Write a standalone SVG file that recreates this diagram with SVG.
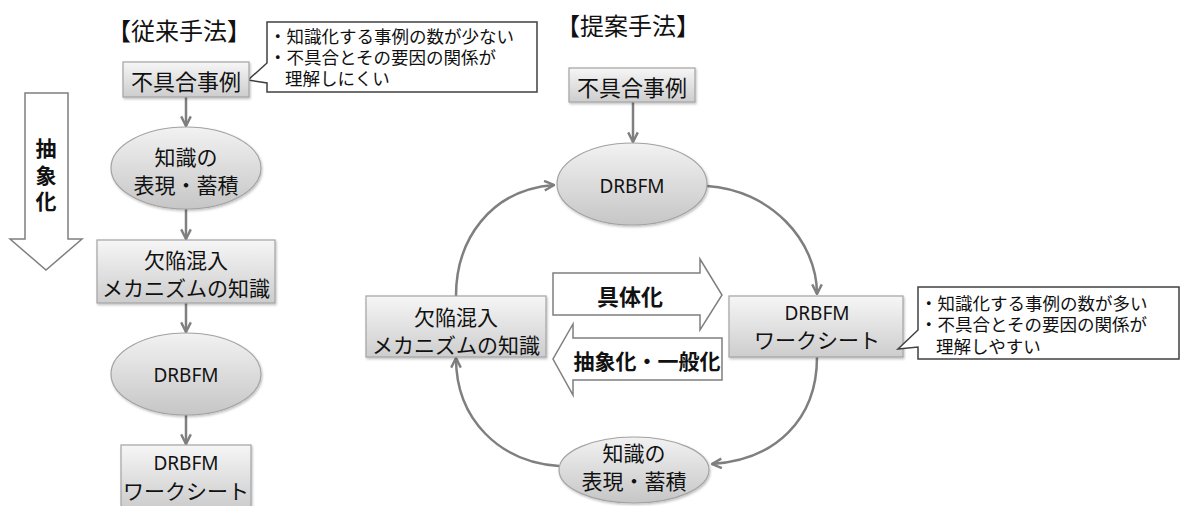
<svg xmlns="http://www.w3.org/2000/svg" width="1182" height="506" viewBox="0 0 1182 506">
<style>
text{font-family:"Noto Sans CJK JP","Noto Sans",sans-serif;fill:#111;dominant-baseline:central}
.t{font-size:21px;text-anchor:middle}
.lat{font-family:"Noto Sans","Noto Sans CJK JP",sans-serif;font-size:19px;text-anchor:middle}
.ttl{font-size:24px}
.c{font-size:17.5px}
.b{font-size:22px;font-weight:bold;text-anchor:middle}
.box{fill:url(#gb);stroke:#a3a3a3;stroke-width:1.2;filter:url(#sh)}
.ell{fill:url(#ge);stroke:#a3a3a3;stroke-width:1.2;filter:url(#sh)}
.call{fill:#fff;stroke:#404040;stroke-width:1.5}
.big{fill:#fff;stroke:#7f7f7f;stroke-width:1.5}
.con{fill:none;stroke:#7f7f7f;stroke-width:2.5;marker-end:url(#ah)}
</style>
<defs>
<linearGradient id="gb" x1="0" y1="0" x2="0" y2="1"><stop offset="0" stop-color="#f6f6f6"/><stop offset="1" stop-color="#cdcdcd"/></linearGradient>
<linearGradient id="ge" x1="0" y1="0" x2="0" y2="1"><stop offset="0" stop-color="#f2f2f2"/><stop offset="1" stop-color="#c6c6c6"/></linearGradient>
<filter id="sh" x="-10%" y="-10%" width="120%" height="130%"><feDropShadow dx="1" dy="1.5" stdDeviation="1.2" flood-color="#000" flood-opacity="0.25"/></filter>
<marker id="ah" viewBox="0 0 10 10" refX="9" refY="5" markerWidth="12" markerHeight="12" markerUnits="userSpaceOnUse" orient="auto"><path d="M1,1 L9,5 L1,9" fill="none" stroke="#7f7f7f" stroke-width="2"/></marker>
</defs>

<g id="titles">
<text class="ttl" x="107" y="29">【従来手法】</text>
<text class="ttl" x="556" y="24">【提案手法】</text>
</g>

<g id="abstract-arrow">
<polygon class="big" points="25,93 68,93 68,239 82,239 46,270 10,239 25,239"/>
<text class="b" x="46" y="147" style="font-size:21px">抽</text>
<text class="b" x="46" y="174" style="font-size:21px">象</text>
<text class="b" x="46" y="200" style="font-size:21px">化</text>
</g>

<g id="connectors">
<line class="con" x1="186" y1="97" x2="186" y2="126"/>
<line class="con" x1="186" y1="209" x2="186" y2="239"/>
<line class="con" x1="186" y1="303" x2="186" y2="332"/>
<line class="con" x1="186" y1="415" x2="186" y2="444"/>
<line class="con" x1="633" y1="102" x2="633" y2="142"/>
<path class="con" d="M456,296 C456,240 490,190 554,185"/>
<path class="con" d="M707,186 C770,190 817,240 817,294"/>
<path class="con" d="M817,357 C817,420 775,460 712,464"/>
<path class="con" d="M559,466 C500,462 456,420 456,358"/>
</g>

<g id="old-callout">
<path class="call" d="M267,22 H537 V92 H267 V83 L248,80 L267,63 Z"/>
<text class="c" x="269" y="35">・知識化する事例の数が少ない</text>
<text class="c" x="269" y="56">・不具合とその要因の関係が</text>
<text class="c" x="285" y="77">理解しにくい</text>
</g>

<g id="old-case">
<rect class="box" x="123" y="62" width="126" height="35"/>
<text class="t" x="186" y="80" style="font-size:22px">不具合事例</text>
</g>

<g id="old-knowledge">
<ellipse class="ell" cx="186" cy="168" rx="75" ry="41"/>
<text class="t" x="186" y="156">知識の</text>
<text class="t" x="186" y="184">表現・蓄積</text>
</g>

<g id="old-mechanism">
<rect class="box" x="97" y="240" width="178" height="63"/>
<text class="t" x="186" y="259">欠陥混入</text>
<text class="t" x="186" y="287">メカニズムの知識</text>
</g>

<g id="old-drbfm">
<ellipse class="ell" cx="186" cy="374" rx="75" ry="41"/>
<text class="lat" x="186" y="375">DRBFM</text>
</g>

<g id="old-worksheet">
<rect class="box" x="121" y="445" width="130" height="62"/>
<text class="lat" x="186" y="463">DRBFM</text>
<text class="t" x="186" y="490">ワークシート</text>
</g>

<g id="new-case">
<rect class="box" x="569" y="68" width="126" height="34"/>
<text class="t" x="632" y="86" style="font-size:22px">不具合事例</text>
</g>

<g id="new-drbfm">
<ellipse class="ell" cx="632" cy="184" rx="75" ry="41"/>
<text class="lat" x="632" y="186">DRBFM</text>
</g>

<g id="new-mechanism">
<rect class="box" x="366" y="296" width="180" height="61"/>
<text class="t" x="456" y="316">欠陥混入</text>
<text class="t" x="456" y="344">メカニズムの知識</text>
</g>

<g id="concretize">
<polygon class="big" points="553,273 700,273 700,259 722,295 700,330 700,315 553,315"/>
<text class="b" x="630" y="295">具体化</text>
</g>

<g id="generalize">
<polygon class="big" points="722,338 573,338 573,324 553,359 573,395 573,380 722,380"/>
<text class="b" x="647" y="360" style="font-size:21px">抽象化・一般化</text>
</g>

<g id="new-worksheet">
<rect class="box" x="729" y="296" width="174" height="61"/>
<text class="lat" x="817" y="313">DRBFM</text>
<text class="t" x="817" y="339">ワークシート</text>
</g>

<g id="new-callout">
<path class="call" d="M918,287 H1179 V359 H918 V347 L898,349 L918,330 Z"/>
<text class="c" x="920" y="302">・知識化する事例の数が多い</text>
<text class="c" x="920" y="323">・不具合とその要因の関係が</text>
<text class="c" x="936" y="345">理解しやすい</text>
</g>

<g id="new-knowledge">
<ellipse class="ell" cx="634" cy="470" rx="75" ry="33"/>
<text class="t" x="634" y="452">知識の</text>
<text class="t" x="634" y="480">表現・蓄積</text>
</g>
</svg>
